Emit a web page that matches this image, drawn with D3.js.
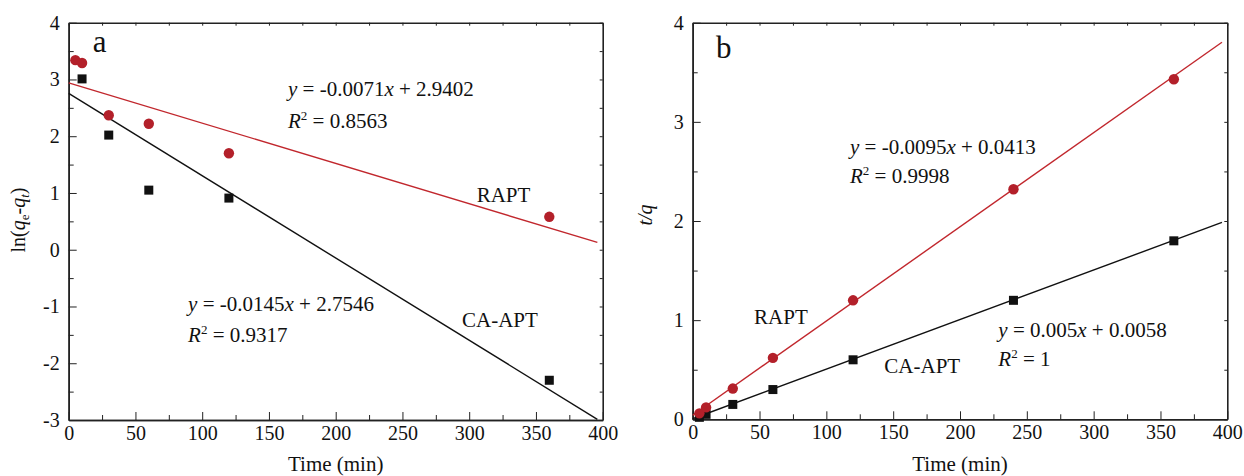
<!DOCTYPE html>
<html>
<head>
<meta charset="utf-8">
<script src="https://cdn.jsdelivr.net/npm/d3@7"></script>
<style>
  body { margin: 0; background: #fff; }
  svg text { font-family: "Liberation Serif", "Times New Roman", serif; fill: #111; }
  .axis path, .axis line { stroke: #222; }
</style>
</head>
<body>
<div id="chart"></div>
<script>

// panel a: pseudo-first-order, ln(qe-qt) vs time
var timeA_rapt = [5, 10, 30, 60, 120, 360];
var lnA_rapt   = [3.34, 3.29, 2.37, 2.22, 1.70, 0.58];
var timeA_ca   = [10, 30, 60, 120, 360];
var lnA_ca     = [3.01, 2.02, 1.05, 0.91, -2.30];

// panel b: pseudo-second-order, t/q vs time
var timeB      = [5, 10, 30, 60, 120, 240, 360];
var tqB_rapt   = [0.06, 0.12, 0.31, 0.62, 1.20, 2.32, 3.43];
var tqB_ca     = [0.02, 0.05, 0.15, 0.30, 0.60, 1.20, 1.80];

// fitted lines [slope, intercept] and their drawn x-range
var fitA_rapt = [-0.0071, 2.9402];
var fitA_ca   = [-0.0145, 2.7546];
var fitB_rapt = [0.0095, 0.0413];
var fitB_ca   = [0.005, 0.0058];
var fitRange  = [0, 396];

var xTicks = [0, 50, 100, 150, 200, 250, 300, 350, 400];
var yTicksA = [-3, -2, -1, 0, 1, 2, 3, 4];
var yTicksB = [0, 1, 2, 3, 4];

var red = "#b3202a", redLine = "#c1272d", black = "#111";
var serif = '"Liberation Serif", "Times New Roman", serif';

var svg = d3.select("#chart").append("svg")
  .attr("width", 1244)
  .attr("height", 476);

function drawPanel(opt) {
  var x = d3.scaleLinear().domain([0, 400]).range([opt.left, opt.right]);
  var y = d3.scaleLinear().domain(opt.yDomain).range([opt.bottom, opt.top]);
  var g = svg.append("g");

  var xMinor = d3.range(25, 400, 50);
  var yMinor = d3.range(opt.yDomain[0] + 0.5, opt.yDomain[1], 1);
  var fmt = function (d) { return String(d); };

  // bottom axis
  g.append("g").attr("class", "axis")
    .attr("transform", "translate(0," + opt.bottom + ")")
    .call(d3.axisBottom(x).tickValues(xTicks).tickSize(-8).tickSizeOuter(0).tickPadding(6).tickFormat(fmt));
  g.append("g").attr("class", "axis")
    .attr("transform", "translate(0," + opt.bottom + ")")
    .call(d3.axisBottom(x).tickValues(xMinor).tickSize(-5).tickSizeOuter(0).tickFormat(""));
  // left axis
  g.append("g").attr("class", "axis")
    .attr("transform", "translate(" + opt.left + ",0)")
    .call(d3.axisLeft(y).tickValues(opt.yTicks).tickSize(-8).tickSizeOuter(0).tickPadding(9).tickFormat(fmt));
  g.append("g").attr("class", "axis")
    .attr("transform", "translate(" + opt.left + ",0)")
    .call(d3.axisLeft(y).tickValues(yMinor).tickSize(-5).tickSizeOuter(0).tickFormat(""));
  // top and right frame
  g.append("g").attr("class", "axis")
    .attr("transform", "translate(0," + opt.top + ")")
    .call(d3.axisTop(x).tickValues(xTicks.concat(xMinor)).tickSize(-3).tickSizeOuter(0).tickFormat(""));
  g.append("g").attr("class", "axis")
    .attr("transform", "translate(" + opt.right + ",0)")
    .call(d3.axisRight(y).tickValues(opt.yTicks.concat(yMinor)).tickSize(-3).tickSizeOuter(0).tickFormat(""));

  g.selectAll(".axis").attr("font-family", serif).attr("font-size", 20);
  g.selectAll(".axis path").attr("stroke-width", 1.6);
  g.selectAll(".axis text").style("font-family", serif).style("font-size", "20px").attr("fill", "#111");

  // fit lines
  var line = d3.line().x(function (d) { return x(d[0]); }).y(function (d) { return y(d[1]); });
  opt.fits.forEach(function (f) {
    var pts = fitRange.map(function (t) { return [t, f.k[0] * t + f.k[1]]; });
    g.append("path").attr("d", line(pts)).attr("fill", "none")
      .attr("stroke", f.color).attr("stroke-width", 1.4);
  });

  // markers
  opt.squares.forEach(function (s) {
    g.selectAll(null).data(d3.zip(s.t, s.v)).enter().append("rect")
      .attr("x", function (d) { return x(d[0]) - 4.5; })
      .attr("y", function (d) { return y(d[1]) - 4.5; })
      .attr("width", 9).attr("height", 9).attr("fill", black);
  });
  opt.circles.forEach(function (s) {
    g.selectAll(null).data(d3.zip(s.t, s.v)).enter().append("circle")
      .attr("cx", function (d) { return x(d[0]); })
      .attr("cy", function (d) { return y(d[1]); })
      .attr("r", 5.2).attr("fill", red);
  });

  // panel letter
  g.append("text").attr("x", x(opt.letter[1])).attr("y", y(opt.letter[2]))
    .style("font-size", "31px").text(opt.letter[0]);

  // series labels
  opt.labels.forEach(function (l) {
    g.append("text").attr("x", x(l[1])).attr("y", y(l[2]))
      .style("font-size", "21px").text(l[0]);
  });

  // equations
  opt.eqs.forEach(function (e) {
    var t1 = g.append("text").attr("x", x(e.t)).attr("y", y(e.v1)).style("font-size", "21px");
    t1.append("tspan").style("font-style", "italic").text("y");
    t1.append("tspan").text(" = " + e.a + "");
    t1.append("tspan").style("font-style", "italic").text("x");
    t1.append("tspan").text(" + " + e.b);
    var t2 = g.append("text").attr("x", x(e.t)).attr("y", y(e.v2)).style("font-size", "21px");
    t2.append("tspan").style("font-style", "italic").text("R");
    t2.append("tspan").attr("dy", -8).style("font-size", "13px").text("2");
    t2.append("tspan").attr("dy", 8).text(" = " + e.r2);
  });

  // x title
  g.append("text").attr("x", (opt.left + opt.right) / 2).attr("y", 471)
    .attr("text-anchor", "middle").style("font-size", "21px").text("Time (min)");

  return g;
}

var gA = drawPanel({
  left: 68.7, right: 602.7, top: 22.7, bottom: 420,
  yDomain: [-3, 4], yTicks: yTicksA,
  fits: [{ k: fitA_rapt, color: redLine }, { k: fitA_ca, color: black }],
  squares: [{ t: timeA_ca, v: lnA_ca }],
  circles: [{ t: timeA_rapt, v: lnA_rapt }],
  letter: ["a", 18, 3.49],
  labels: [["RAPT", 305.6, 0.843], ["CA-APT", 294.6, -1.362]],
  eqs: [
    { t: 164.3, v1: 2.707, v2: 2.143, a: "-0.0071", b: "2.9402", r2: "0.8563" },
    { t: 89.4, v1: -1.085, v2: -1.626, a: "-0.0145", b: "2.7546", r2: "0.9317" }
  ]
});

var gB = drawPanel({
  left: 692.7, right: 1227.3, top: 22.7, bottom: 419.3,
  yDomain: [0, 4], yTicks: yTicksB,
  fits: [{ k: fitB_rapt, color: redLine }, { k: fitB_ca, color: black }],
  squares: [{ t: timeB, v: tqB_ca }],
  circles: [{ t: timeB, v: tqB_rapt }],
  letter: ["b", 17.4, 3.645],
  labels: [["RAPT", 45.9, 0.957], ["CA-APT", 143.4, 0.463]],
  eqs: [
    { t: 117.7, v1: 2.68, v2: 2.38, a: "-0.0095", b: "0.0413", r2: "0.9998" },
    { t: 228.7, v1: 0.832, v2: 0.537, a: "0.005", b: "0.0058", r2: "1" }
  ]
});

// y titles
var ylA = svg.append("text")
  .attr("transform", "translate(25,220) rotate(-90)")
  .attr("text-anchor", "middle").style("font-size", "20px");
ylA.append("tspan").text("ln(");
ylA.append("tspan").style("font-style", "italic").text("q");
ylA.append("tspan").attr("dy", 4).style("font-size", "13px").text("e");
ylA.append("tspan").attr("dy", -4).text("-");
ylA.append("tspan").style("font-style", "italic").text("q");
ylA.append("tspan").attr("dy", 4).style("font-size", "13px").style("font-style", "italic").text("t");
ylA.append("tspan").attr("dy", -4).text(")");

svg.append("text")
  .attr("transform", "translate(652,215) rotate(-90)")
  .attr("text-anchor", "middle").style("font-size", "20px").style("font-style", "italic")
  .text("t/q");

</script>
</body>
</html>
